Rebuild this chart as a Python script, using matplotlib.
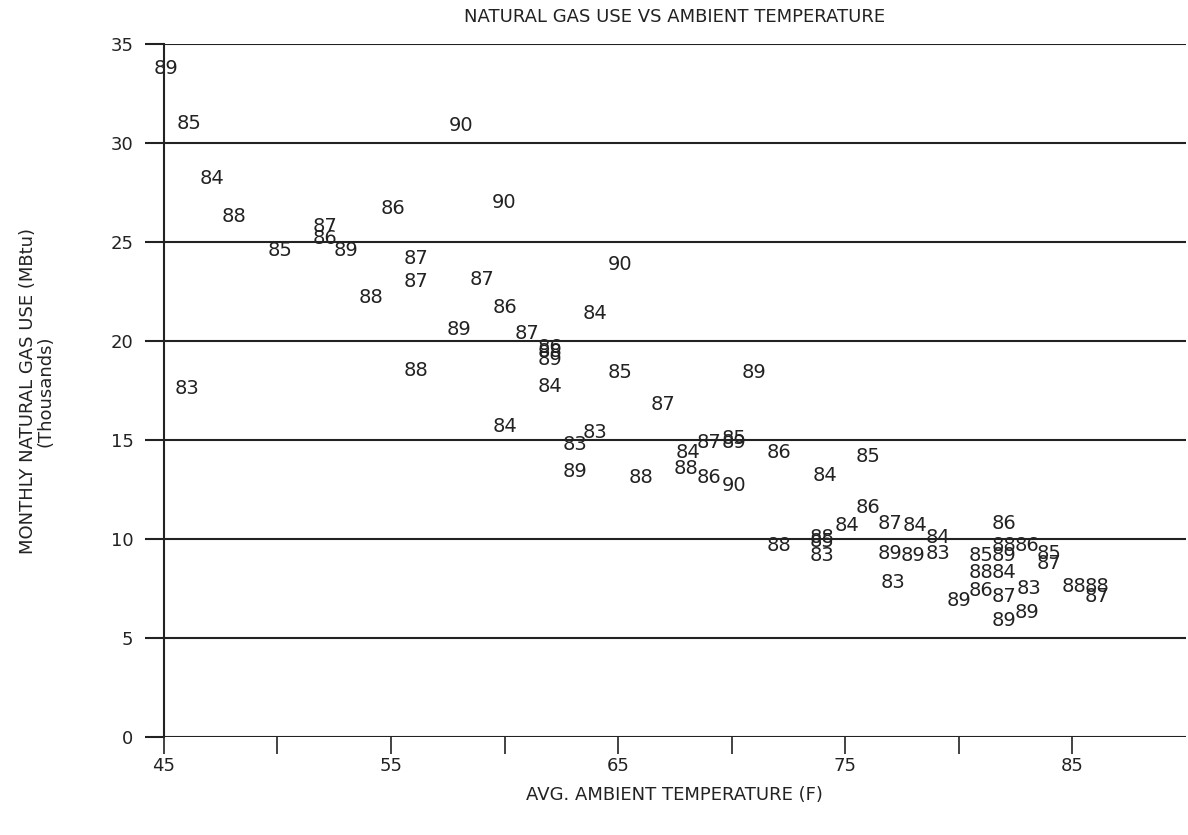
import matplotlib.pyplot as plt

# year labels (data points are drawn as their year number)
years = ["89", "85", "90", "84", "88", "86", "90", "87", "86", "85",
         "89", "87", "87", "87", "90", "88", "86", "84", "89", "87",
         "86", "88", "89", "83", "88", "85", "89", "84", "87", "84",
         "83", "83", "84", "87", "85", "89", "86", "89", "88", "88",
         "86", "90", "85", "84", "86", "87", "84", "84", "88", "88",
         "85", "83", "89", "89", "84", "83", "83", "89", "86", "88",
         "89", "84", "87", "89", "85", "88", "86", "86", "83", "89",
         "85", "87", "88", "88", "87"]

temp = [45.1, 46.1, 58.1, 47.1, 48.1, 55.1, 60.0, 52.1, 52.1, 50.1,
        53.0, 56.1, 56.1, 59.0, 65.1, 54.1, 60.0, 64.0, 58.0, 61.0,
        62.0, 62.0, 62.0, 46.0, 56.1, 65.1, 71.0, 62.0, 67.0, 60.0,
        64.0, 63.1, 68.1, 69.0, 70.1, 70.1, 72.1, 63.1, 66.0, 68.0,
        69.0, 70.1, 76.0, 74.1, 76.0, 77.0, 78.1, 75.1, 72.1, 74.0,
        74.0, 74.0, 77.0, 78.0, 79.1, 79.1, 77.1, 80.0, 82.0, 82.0,
        82.0, 82.0, 82.0, 82.0, 81.0, 81.0, 81.0, 83.0, 83.1, 83.0,
        84.0, 84.0, 85.1, 86.1, 86.1]

gas = [33.8, 31.0, 30.9, 28.2, 26.3, 26.7, 27.0, 25.8, 25.2, 24.6,
       24.6, 24.2, 23.0, 23.1, 23.9, 22.2, 21.7, 21.4, 20.6, 20.4,
       19.7, 19.5, 19.1, 17.6, 18.5, 18.4, 18.4, 17.7, 16.8, 15.7,
       15.4, 14.8, 14.4, 14.9, 15.1, 14.9, 14.4, 13.4, 13.1, 13.6,
       13.1, 12.7, 14.2, 13.2, 11.6, 10.8, 10.7, 10.7, 9.7, 10.1,
       9.9, 9.2, 9.3, 9.2, 10.1, 9.3, 7.8, 6.9, 10.8, 9.7,
       9.2, 8.3, 7.1, 5.9, 9.2, 8.3, 7.4, 9.7, 7.5, 6.3,
       9.3, 8.8, 7.6, 7.6, 7.1]

fnt = "DejaVu Sans"

fig = plt.figure(figsize=(11.88, 8.35), dpi=100)
ax = fig.add_axes([0.138, 0.117, 0.860, 0.830])

for t, g, lab in zip(temp, gas, years):
    ax.text(t, g, lab, ha="center", va="center", fontsize=14,
            family=fnt, color="#222222")

ax.set_xlim(45, 90)
ax.set_ylim(0, 35)
ax.set_xticks(range(45, 90, 5))
ax.set_xticklabels([str(v) if v % 10 == 5 else "" for v in range(45, 90, 5)],
                   family=fnt, fontsize=13)
ax.set_yticks(range(0, 36, 5))
ax.set_yticklabels([str(v) for v in range(0, 36, 5)], family=fnt, fontsize=13)
ax.tick_params(axis="x", length=12, width=1.2, pad=2, colors="#222222")
ax.tick_params(axis="y", length=14, width=1.5, pad=8, colors="#222222")

for v in range(0, 36, 5):
    ax.axhline(v, color="#222222", lw=1.5, zorder=0)

for s in ["top", "right", "bottom"]:
    ax.spines[s].set_visible(False)
ax.spines["left"].set_linewidth(1.5)
ax.spines["left"].set_color("#222222")

ax.set_title("NATURAL GAS USE VS AMBIENT TEMPERATURE", family=fnt,
             fontsize=13, pad=16, color="#222222")
ax.set_xlabel("AVG. AMBIENT TEMPERATURE (F)", family=fnt, fontsize=13,
              labelpad=8, color="#222222")
ax.set_ylabel("MONTHLY NATURAL GAS USE (MBtu)\n(Thousands)", family=fnt,
              fontsize=13, labelpad=40, color="#222222", linespacing=1.0)

fig.savefig("out.png", dpi=100)
